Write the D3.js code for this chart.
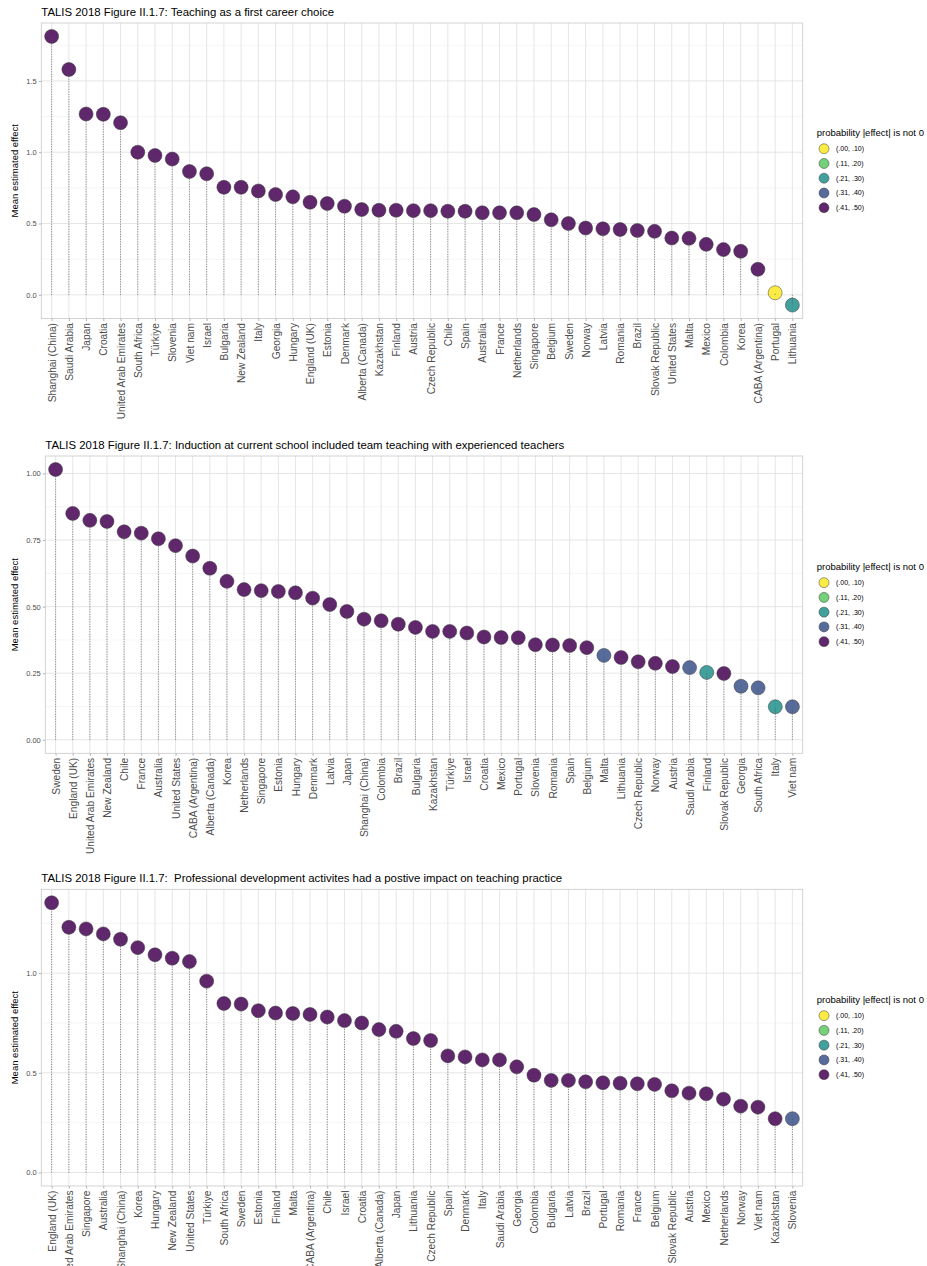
<!DOCTYPE html>
<html>
<head>
<meta charset="utf-8">
<script src="https://cdn.jsdelivr.net/npm/d3@7"></script>
<style>
  html, body { margin: 0; padding: 0; background: #fff; }
  svg { display: block; font-family: "Liberation Sans", Arial, sans-serif; }
</style>
</head>
<body>
<script>
// legend bins (probability |effect| is not 0)
const probBins = ["(.00, .10)", "(.11, .20)", "(.21, .30)", "(.31, .40)", "(.41, .50)"];
const binColors = ["#FDE725", "#5DC863", "#21908C", "#3B528B", "#440154"];

// panel 1: teaching as a first career choice
const careerCountries = ["Shanghai (China)", "Saudi Arabia", "Japan", "Croatia", "United Arab Emirates", "South Africa", "Türkiye", "Slovenia", "Viet nam", "Israel", "Bulgaria", "New Zealand", "Italy", "Georgia", "Hungary", "England (UK)", "Estonia", "Denmark", "Alberta (Canada)", "Kazakhstan", "Finland", "Austria", "Czech Republic", "Chile", "Spain", "Australia", "France", "Netherlands", "Singapore", "Belgium", "Sweden", "Norway", "Latvia", "Romania", "Brazil", "Slovak Republic", "United States", "Malta", "Mexico", "Colombia", "Korea", "CABA (Argentina)", "Portugal", "Lithuania"];
const careerValues = [1.812, 1.580, 1.268, 1.266, 1.207, 1.000, 0.977, 0.952, 0.865, 0.849, 0.754, 0.754, 0.728, 0.703, 0.687, 0.649, 0.640, 0.621, 0.598, 0.593, 0.593, 0.590, 0.590, 0.586, 0.586, 0.575, 0.575, 0.575, 0.563, 0.526, 0.500, 0.468, 0.463, 0.458, 0.451, 0.445, 0.398, 0.396, 0.354, 0.317, 0.305, 0.179, 0.014, -0.072];
const careerBins = [4, 4, 4, 4, 4, 4, 4, 4, 4, 4, 4, 4, 4, 4, 4, 4, 4, 4, 4, 4, 4, 4, 4, 4, 4, 4, 4, 4, 4, 4, 4, 4, 4, 4, 4, 4, 4, 4, 4, 4, 4, 4, 0, 2];

// panel 2: induction included team teaching
const inductionCountries = ["Sweden", "England (UK)", "United Arab Emirates", "New Zealand", "Chile", "France", "Australia", "United States", "CABA (Argentina)", "Alberta (Canada)", "Korea", "Netherlands", "Singapore", "Estonia", "Hungary", "Denmark", "Latvia", "Japan", "Shanghai (China)", "Colombia", "Brazil", "Bulgaria", "Kazakhstan", "Türkiye", "Israel", "Croatia", "Mexico", "Portugal", "Slovenia", "Romania", "Spain", "Belgium", "Malta", "Lithuania", "Czech Republic", "Norway", "Austria", "Saudi Arabia", "Finland", "Slovak Republic", "Georgia", "South Africa", "Italy", "Viet nam"];
const inductionValues = [1.015, 0.850, 0.824, 0.820, 0.781, 0.776, 0.755, 0.729, 0.690, 0.644, 0.595, 0.564, 0.560, 0.557, 0.552, 0.532, 0.508, 0.482, 0.453, 0.447, 0.434, 0.422, 0.407, 0.407, 0.401, 0.386, 0.384, 0.383, 0.357, 0.356, 0.354, 0.346, 0.317, 0.309, 0.293, 0.287, 0.275, 0.271, 0.253, 0.249, 0.201, 0.195, 0.124, 0.124];
const inductionBins = [4, 4, 4, 4, 4, 4, 4, 4, 4, 4, 4, 4, 4, 4, 4, 4, 4, 4, 4, 4, 4, 4, 4, 4, 4, 4, 4, 4, 4, 4, 4, 4, 3, 4, 4, 4, 4, 3, 2, 4, 3, 3, 2, 3];

// panel 3: professional development impact
const pdCountries = ["England (UK)", "United Arab Emirates", "Singapore", "Australia", "Shanghai (China)", "Korea", "Hungary", "New Zealand", "United States", "Türkiye", "South Africa", "Sweden", "Estonia", "Finland", "Malta", "CABA (Argentina)", "Chile", "Israel", "Croatia", "Alberta (Canada)", "Japan", "Lithuania", "Czech Republic", "Spain", "Denmark", "Italy", "Saudi Arabia", "Georgia", "Colombia", "Bulgaria", "Latvia", "Brazil", "Portugal", "Romania", "France", "Belgium", "Slovak Republic", "Austria", "Mexico", "Netherlands", "Norway", "Viet nam", "Kazakhstan", "Slovenia"];
const pdValues = [1.353, 1.230, 1.222, 1.197, 1.170, 1.128, 1.092, 1.075, 1.058, 0.960, 0.848, 0.845, 0.812, 0.800, 0.798, 0.793, 0.780, 0.762, 0.750, 0.717, 0.708, 0.672, 0.662, 0.585, 0.580, 0.565, 0.565, 0.530, 0.488, 0.462, 0.462, 0.455, 0.450, 0.448, 0.445, 0.442, 0.410, 0.398, 0.395, 0.368, 0.333, 0.328, 0.270, 0.270];
const pdBins = [4, 4, 4, 4, 4, 4, 4, 4, 4, 4, 4, 4, 4, 4, 4, 4, 4, 4, 4, 4, 4, 4, 4, 4, 4, 4, 4, 4, 4, 4, 4, 4, 4, 4, 4, 4, 4, 4, 4, 4, 4, 4, 4, 3];

const width = 927, height = 1266;
const svg = d3.select('body').append('svg')
    .attr('width', width)
    .attr('height', height);

const color = d3.scaleOrdinal().domain(d3.range(5)).range(binColors);

// layout of the three panels
const panels = [
    { title: "TALIS 2018 Figure II.1.7: Teaching as a first career choice",
      countries: careerCountries, values: careerValues, bins: careerBins,
      left: 41.3, top: 23, bottom: 318.5, titleY: 16, ticks: [0, 0.5, 1, 1.5], fmt: ".1f" },
    { title: "TALIS 2018 Figure II.1.7: Induction at current school included team teaching with experienced teachers",
      countries: inductionCountries, values: inductionValues, bins: inductionBins,
      left: 45.3, top: 456, bottom: 753.3, titleY: 449, ticks: [0, 0.25, 0.5, 0.75, 1], fmt: ".2f" },
    { title: "TALIS 2018 Figure II.1.7:  Professional development activites had a postive impact on teaching practice",
      countries: pdCountries, values: pdValues, bins: pdBins,
      left: 41.3, top: 889.3, bottom: 1186, titleY: 882, ticks: [0, 0.5, 1], fmt: ".1f" }
];
const right = 802.7;

panels.forEach(p => {
    const g = svg.append('g');
    const data = p.countries.map((c, i) => ({ country: c, value: p.values[i], bin: p.bins[i] }));

    // x: discrete scale with ggplot's 0.6 expansion
    const x = d3.scalePoint().domain(p.countries).range([p.left, right]).padding(0.6);

    // y: continuous with 5% expansion, 0 included (segments start at 0)
    const lo = Math.min(0, d3.min(p.values)), hi = Math.max(0, d3.max(p.values));
    const pad = (hi - lo) * 0.05;
    const y = d3.scaleLinear().domain([lo - pad, hi + pad]).range([p.bottom, p.top]);

    // minor gridlines
    const step = p.ticks[1] - p.ticks[0];
    const minor = d3.range(-2, 10).map(k => (k + 0.5) * step)
        .filter(v => v > y.domain()[0] && v < y.domain()[1]);
    g.selectAll('.minor').data(minor).enter().append('line')
        .attr('x1', p.left).attr('x2', right)
        .attr('y1', d => y(d)).attr('y2', d => y(d))
        .attr('stroke', '#efefef').attr('stroke-width', 0.6);

    // major gridlines
    g.selectAll('.hgrid').data(p.ticks).enter().append('line')
        .attr('x1', p.left).attr('x2', right)
        .attr('y1', d => y(d)).attr('y2', d => y(d))
        .attr('stroke', '#e0e0e0').attr('stroke-width', 0.8);
    g.selectAll('.vgrid').data(p.countries).enter().append('line')
        .attr('x1', d => x(d)).attr('x2', d => x(d))
        .attr('y1', p.top).attr('y2', p.bottom)
        .attr('stroke', '#e0e0e0').attr('stroke-width', 0.8);

    // panel border
    g.append('rect')
        .attr('x', p.left).attr('y', p.top)
        .attr('width', right - p.left).attr('height', p.bottom - p.top)
        .attr('fill', 'none').attr('stroke', '#c8c8c8').attr('stroke-width', 0.8);

    // y axis
    const yAxis = g.append('g')
        .attr('transform', `translate(${p.left},0)`)
        .call(d3.axisLeft(y).tickValues(p.ticks).tickFormat(d3.format(p.fmt)).tickSize(2.5).tickPadding(2));
    yAxis.select('.domain').remove();
    yAxis.selectAll('line').attr('stroke', '#b3b3b3');
    yAxis.selectAll('text').attr('fill', '#4d4d4d').style('font-size', '7.5px')
        .style('font-family', '"Liberation Sans", Arial, sans-serif');

    // x axis
    const xAxis = g.append('g')
        .attr('transform', `translate(0,${p.bottom})`)
        .call(d3.axisBottom(x).tickSize(2.5).tickPadding(2));
    xAxis.select('.domain').remove();
    xAxis.selectAll('line').attr('stroke', '#b3b3b3');
    xAxis.selectAll('text')
        .attr('fill', '#4d4d4d')
        .style('font-size', '10.2px')
        .style('font-family', '"Liberation Sans", Arial, sans-serif')
        .attr('text-anchor', 'end')
        .attr('transform', 'rotate(-90)')
        .attr('x', -4.5).attr('y', 0).attr('dy', '0.35em');

    // points
    g.selectAll('.dot').data(data).enter().append('circle')
        .attr('cx', d => x(d.country))
        .attr('cy', d => y(d.value))
        .attr('r', 7)
        .attr('fill', d => color(d.bin))
        .attr('fill-opacity', 0.85)
        .attr('stroke', '#3a3a3a')
        .attr('stroke-width', 0.5);

    // dotted stems from 0
    g.selectAll('.stem').data(data).enter().append('line')
        .attr('x1', d => x(d.country)).attr('x2', d => x(d.country))
        .attr('y1', y(0)).attr('y2', d => y(d.value))
        .attr('stroke', '#555').attr('stroke-width', 0.7)
        .attr('stroke-dasharray', '1,1.5');

    // title
    g.append('text')
        .attr('x', p.left).attr('y', p.titleY)
        .attr('xml:space', 'preserve')
        .style('white-space', 'pre')
        .style('font-size', '11.4px')
        .attr('fill', '#000')
        .text(p.title);

    // y axis title
    g.append('text')
        .attr('transform', `translate(18,${(p.top + p.bottom) / 2}) rotate(-90)`)
        .attr('text-anchor', 'middle')
        .style('font-size', '9.5px')
        .attr('fill', '#000')
        .text('Mean estimated effect');

    // legend
    const mid = (p.top + p.bottom) / 2;
    const legend = g.append('g').attr('transform', `translate(816.7,${mid - 38})`);
    legend.append('text')
        .attr('x', 0).attr('y', 3.5)
        .style('font-size', '9.5px')
        .attr('fill', '#000')
        .text('probability |effect| is not 0');
    probBins.forEach((b, i) => {
        legend.append('circle')
            .attr('cx', 7.3).attr('cy', 16 + i * 14.75)
            .attr('r', 5)
            .attr('fill', color(i))
            .attr('fill-opacity', 0.85)
            .attr('stroke', '#3a3a3a')
            .attr('stroke-width', 0.5);
        legend.append('text')
            .attr('x', 19.3).attr('y', 16 + i * 14.75)
            .attr('dy', '0.35em')
            .style('font-size', '7px')
            .attr('fill', '#000')
            .text(b);
    });
});
</script>
</body>
</html>
